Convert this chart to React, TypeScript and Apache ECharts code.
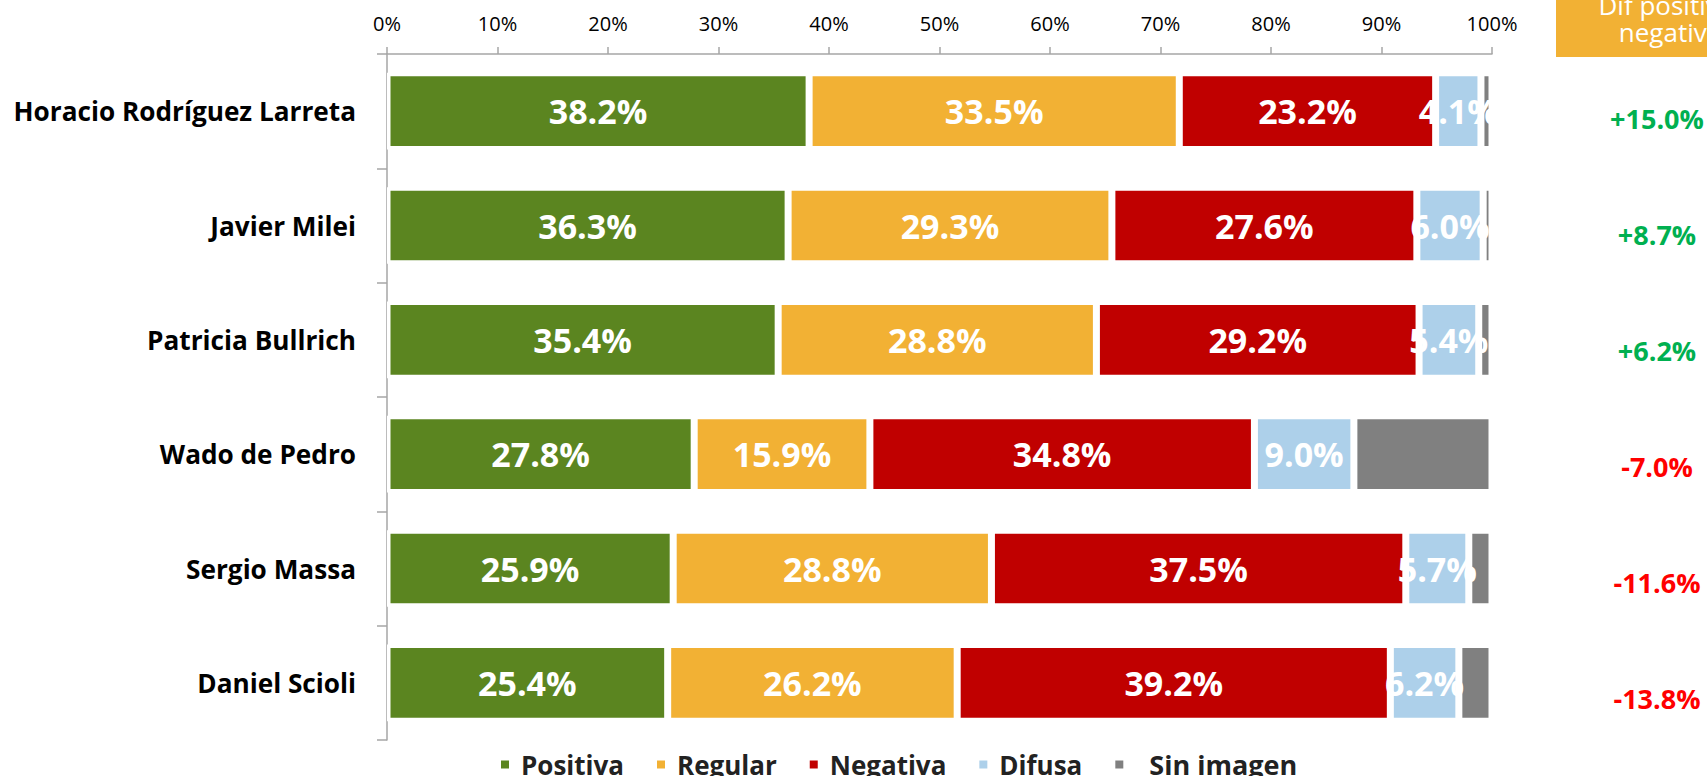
import { useEffect, useRef } from 'react';
import * as echarts from 'echarts';

const categories = [
  'Horacio Rodríguez Larreta',
  'Javier Milei',
  'Patricia Bullrich',
  'Wado de Pedro',
  'Sergio Massa',
  'Daniel Scioli',
];
const seriesNames = ['Positiva', 'Regular', 'Negativa', 'Difusa', 'Sin imagen'];
const positiva = [38.2, 36.3, 35.4, 27.8, 25.9, 25.4];
const regular = [33.5, 29.3, 28.8, 15.9, 28.8, 26.2];
const negativa = [23.2, 27.6, 29.2, 34.8, 37.5, 39.2];
const difusa = [4.1, 6.0, 5.4, 9.0, 5.7, 6.2];
const sinImagen = [1.0, 0.8, 1.2, 12.5, 2.1, 3.0];
const diffPosNeg = [15.0, 8.7, 6.2, -7.0, -11.6, -13.8];
const headerText = 'Dif positiva-\nnegativa';

const colors = ['#5B8520', '#F2B134', '#C00000', '#ADD0EA', '#808080'];
const FONT = '"Open Sans", "Noto Sans", sans-serif';
const AXIS_GRAY = '#A6A6A6';

export default function App() {
  const ref = useRef<HTMLDivElement>(null);

  useEffect(() => {
    if (!ref.current) return;
    const chart = echarts.init(ref.current, undefined, { renderer: 'svg' });
    const values = [positiva, regular, negativa, difusa, sinImagen];

    const barSeries = values.map((vals, idx) => ({
      name: seriesNames[idx],
      type: 'bar',
      stack: 'total',
      xAxisIndex: 0,
      yAxisIndex: 0,
      barCategoryGap: '33%',
      data: vals,
      itemStyle: { color: colors[idx], borderColor: '#ffffff', borderWidth: 3.5 },
      label: {
        show: idx < 4,
        position: 'inside',
        color: '#ffffff',
        fontFamily: FONT,
        fontWeight: 'bold',
        fontSize: 34,
        formatter: (p: any) => Number(p.value).toFixed(1) + '%',
      },
      emphasis: { disabled: true },
    }));

    const diffSeries = {
      name: 'diff',
      type: 'scatter',
      xAxisIndex: 1,
      yAxisIndex: 1,
      symbolSize: 2,
      itemStyle: { color: 'rgba(255,255,255,0)', opacity: 1 },
      data: categories.map((c, i) => ({
        value: [0.5, c],
        label: { color: diffPosNeg[i] >= 0 ? '#00B050' : '#FF0000' },
      })),
      label: {
        show: true,
        position: 'inside',
        opacity: 1,
        fontFamily: FONT,
        fontWeight: 'bold',
        fontSize: 27,
        formatter: (p: any) => {
          const v = diffPosNeg[p.dataIndex];
          return (v >= 0 ? '+' : '') + v.toFixed(1) + '%';
        },
      },
      emphasis: { disabled: true },
    };

    chart.setOption({
      animation: false,
      textStyle: { fontFamily: FONT },
      grid: [
        { left: 387, right: 215, top: 54, bottom: 36 },
        { left: 1607, right: 0, top: 60, bottom: 20 },
      ],
      xAxis: [
        {
          type: 'value',
          gridIndex: 0,
          position: 'top',
          min: 0,
          max: 100,
          interval: 10,
          axisLine: { show: true, lineStyle: { color: AXIS_GRAY, width: 1.5 } },
          axisTick: { show: true, length: 7, lineStyle: { color: AXIS_GRAY, width: 1.5 } },
          splitLine: { show: false },
          axisLabel: {
            formatter: '{value}%',
            color: '#000000',
            fontFamily: FONT,
            fontSize: 20,
            margin: 21,
          },
        },
        { type: 'value', gridIndex: 1, min: 0, max: 1, show: false },
      ],
      yAxis: [
        {
          type: 'category',
          gridIndex: 0,
          data: categories,
          inverse: true,
          axisLine: { show: true, lineStyle: { color: AXIS_GRAY, width: 1.5 } },
          axisTick: { show: true, length: 10, lineStyle: { color: AXIS_GRAY, width: 1.5 } },
          axisLabel: {
            color: '#000000',
            fontFamily: FONT,
            fontWeight: 'bold',
            fontSize: 26.2,
            margin: 31,
          },
        },
        { type: 'category', gridIndex: 1, data: categories, inverse: true, show: false },
      ],
      legend: {
        data: seriesNames,
        left: 494,
        top: 746,
        icon: 'rect',
        itemWidth: 10,
        itemHeight: 10,
        itemGap: 31,
        selectedMode: false,
        formatter: (name: string) => (name === 'Sin imagen' ? '{s|' + name + '}' : name),
        textStyle: {
          color: '#222222',
          fontFamily: FONT,
          fontWeight: 'bold',
          fontSize: 26,
          padding: [0, 0, 0, 6],
          rich: {
            s: {
              color: '#222222',
              fontFamily: FONT,
              fontWeight: 'bold',
              fontSize: 27,
              padding: [0, 0, 0, 14],
            },
          },
        },
      },
      graphic: [
        {
          type: 'rect',
          shape: { x: 1556, y: -10, width: 240, height: 67 },
          style: { fill: '#F2B134' },
        },
        {
          type: 'text',
          x: 1670,
          y: 18,
          style: {
            text: headerText,
            fill: '#ffffff',
            fontFamily: FONT,
            fontSize: 26,
            lineHeight: 27,
            align: 'center',
            verticalAlign: 'middle',
          },
        },
      ],
      series: [...barSeries, diffSeries],
    });

    return () => chart.dispose();
  }, []);

  return (
    <div
      ref={ref}
      style={{ position: 'fixed', left: 0, top: 0, width: 1707, height: 776, background: '#ffffff' }}
    />
  );
}
